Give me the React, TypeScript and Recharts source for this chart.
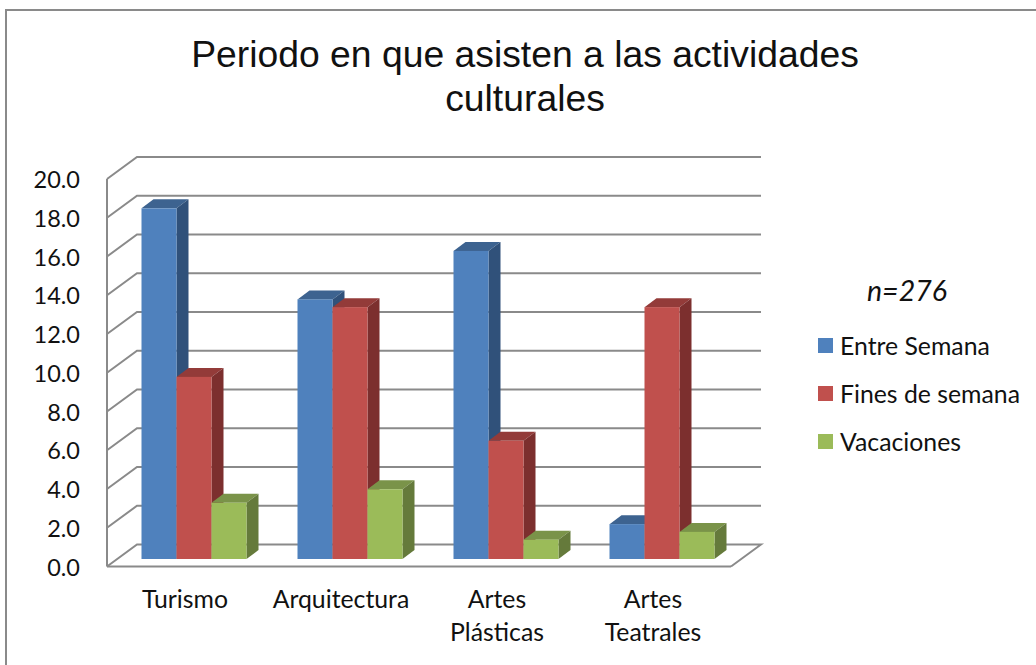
import { BarChart, Bar, XAxis, YAxis, CartesianGrid, Legend } from 'recharts'

const categories = ['Turismo', 'Arquitectura', 'Artes Plásticas', 'Artes Teatrales']
const entreSemana = [18.1, 13.4, 15.9, 1.8]
const finesDeSemana = [9.4, 13.0, 6.1, 13.0]
const vacaciones = [2.9, 3.6, 1.0, 1.4]
const yTicks = [0, 2, 4, 6, 8, 10, 12, 14, 16, 18, 20]

const data = categories.map((name, i) => ({
  name,
  entreSemana: entreSemana[i],
  finesDeSemana: finesDeSemana[i],
  vacaciones: vacaciones[i],
}))

const GRID = '#8a8a8a'
const FONT = 'Lato, Carlito, sans-serif'

// depth of the back wall and of the bars
const WALL_DX = 30
const WALL_DY = 22
const BAR_DX = 12
const BAR_DY = 9
const SHIFT_X = 8.5
const SHIFT_Y = -7.5

function makeBar(front: string, top: string, side: string) {
  return function Bar3D(props: any) {
    const { x, y, width, height } = props
    const l = x + SHIFT_X
    const r = l + width
    const t = y + SHIFT_Y
    const b = t + height
    return (
      <g>
        <polygon points={`${l},${t} ${l + BAR_DX},${t - BAR_DY} ${r + BAR_DX},${t - BAR_DY} ${r},${t}`} fill={top} />
        <polygon points={`${r},${t} ${r + BAR_DX},${t - BAR_DY} ${r + BAR_DX},${b - BAR_DY} ${r},${b}`} fill={side} />
        <rect x={l} y={t} width={width} height={height} fill={front} />
      </g>
    )
  }
}

function gridLine(props: any) {
  const { x1, x2, y1, y, height, index } = props
  const atFloor = y1 >= y + height - 1
  return (
    <g key={index}>
      <polyline
        points={`${x1},${y1} ${x1 + WALL_DX},${y1 - WALL_DY} ${x2 + WALL_DX},${y1 - WALL_DY}${atFloor ? ` ${x2},${y1}` : ''}`}
        fill="none"
        stroke={GRID}
        strokeWidth={2}
      />
    </g>
  )
}

function YTick({ x, y, payload }: any) {
  return (
    <text x={x - 19} y={y} dy={9} textAnchor="end" fontFamily={FONT} fontSize={23.5} fill="#111">
      {payload.value.toFixed(1)}
    </text>
  )
}

function XTick({ x, payload }: any) {
  const words = String(payload.value).split(' ')
  return (
    <text textAnchor="middle" fontFamily={FONT} fontSize={24.8} fill="#111">
      {words.map((w, i) => (
        <tspan key={w} x={x} y={608 + i * 33}>
          {w}
        </tspan>
      ))}
    </text>
  )
}

function LegendList({ payload }: any) {
  return (
    <div>
      {payload.map((p: any) => (
        <div key={p.value} style={{ display: 'flex', alignItems: 'center', height: 48, fontFamily: FONT, fontSize: 24.8, color: '#111', whiteSpace: 'nowrap' }}>
          <span style={{ width: 15, height: 15, background: p.color, marginRight: 7 }} />
          {p.value}
        </div>
      ))}
    </div>
  )
}

export default function App() {
  return (
    <div style={{ position: 'absolute', left: 0, top: 0, width: 1036, height: 665, background: '#fff', overflow: 'hidden' }}>
      <div style={{ position: 'absolute', left: 5, top: 9, right: -5, bottom: -5, borderTop: `2px solid ${GRID}`, borderLeft: `2px solid ${GRID}` }} />
      <div style={{ position: 'absolute', left: 125, top: 32, width: 800, textAlign: 'center', fontFamily: '"Liberation Sans", Arial, sans-serif', fontSize: 37.3, lineHeight: '44px', color: '#111' }}>
        Periodo en que asisten a las actividades
        <br />
        culturales
      </div>
      <div style={{ position: 'absolute', left: 867, top: 272, fontFamily: FONT, fontStyle: 'italic', fontSize: 28.5, lineHeight: '36px', color: '#111' }}>
        n=276
      </div>
      <BarChart
        width={1036}
        height={665}
        data={data}
        margin={{ top: 179, right: 305, bottom: 0, left: 0 }}
        barSize={35}
        barGap={0}
        style={{ position: 'absolute', left: 0, top: 0 }}
      >
        <CartesianGrid vertical={false} horizontal={gridLine} syncWithTicks />
        <XAxis
          dataKey="name"
          height={98.5}
          interval={0}
          tick={<XTick />}
          tickLine={false}
          axisLine={{ stroke: GRID, strokeWidth: 2 }}
        />
        <YAxis
          width={107}
          domain={[0, 20]}
          ticks={yTicks}
          tick={<YTick />}
          tickLine={false}
          axisLine={{ stroke: GRID, strokeWidth: 2 }}
        />
        <Legend
          layout="vertical"
          align="center"
          verticalAlign="middle"
          content={<LegendList />}
          wrapperStyle={{ position: 'absolute', left: 818, top: 321, width: 215, bottom: 'auto', right: 'auto', margin: 0 }}
        />
        <Bar dataKey="entreSemana" name="Entre Semana" fill="#4f81bd" isAnimationActive={false} shape={makeBar('#4f81bd', '#3d6390', '#30517a')} />
        <Bar dataKey="finesDeSemana" name="Fines de semana" fill="#c0504d" isAnimationActive={false} shape={makeBar('#c0504d', '#933b39', '#7c2f2e')} />
        <Bar dataKey="vacaciones" name="Vacaciones" fill="#9bbb59" isAnimationActive={false} shape={makeBar('#9bbb59', '#7a9349', '#657a3b')} />
      </BarChart>
    </div>
  )
}
